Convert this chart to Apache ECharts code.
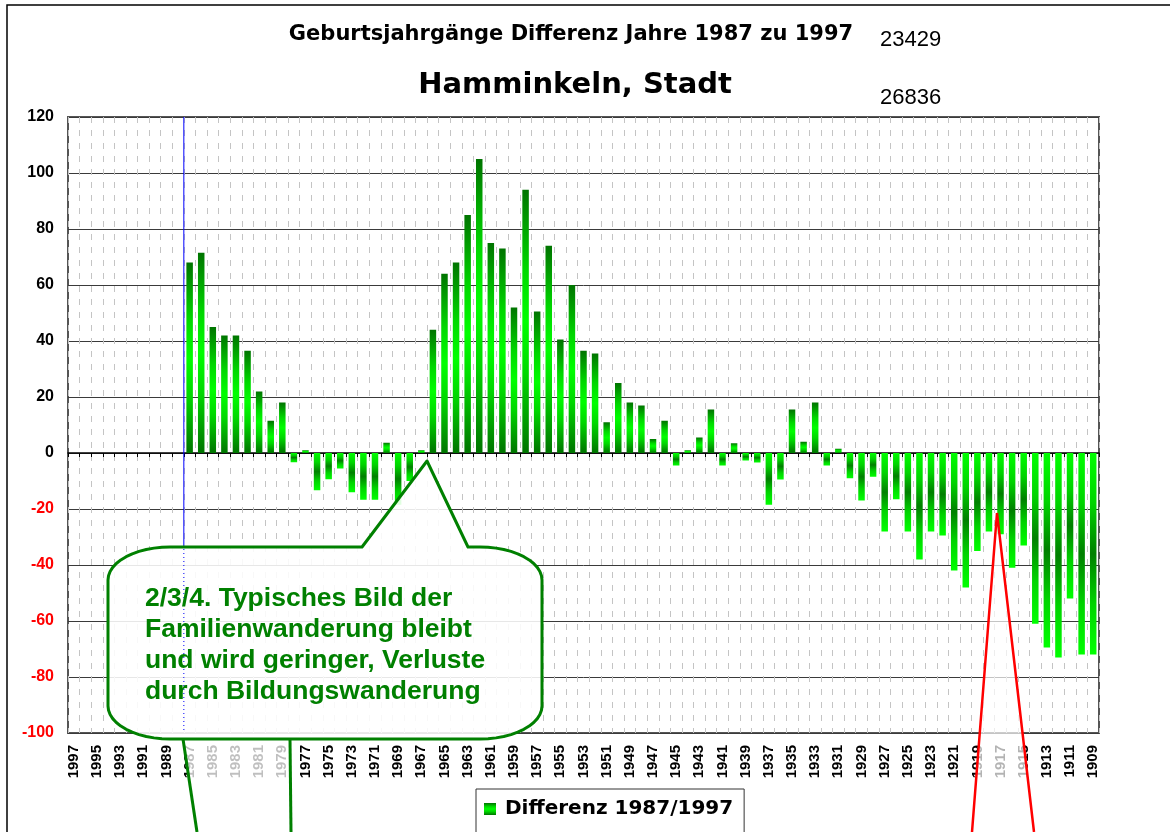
<!DOCTYPE html>
<html>
<head>
<meta charset="utf-8">
<script src="https://cdn.jsdelivr.net/npm/echarts@6/dist/echarts.min.js"></script>
<style>
  html, body { margin: 0; padding: 0; background: #fff; }
  #chart { width: 1170px; height: 832px; }
</style>
</head>
<body>
<div id="chart"></div>
<script>
// birth years, newest first (as in the original sheet)
const years = [
  '1997','1996','1995','1994','1993','1992','1991','1990','1989','1988',
  '1987','1986','1985','1984','1983','1982','1981','1980','1979','1978',
  '1977','1976','1975','1974','1973','1972','1971','1970','1969','1968',
  '1967','1966','1965','1964','1963','1962','1961','1960','1959','1958',
  '1957','1956','1955','1954','1953','1952','1951','1950','1949','1948',
  '1947','1946','1945','1944','1943','1942','1941','1940','1939','1938',
  '1937','1936','1935','1934','1933','1932','1931','1930','1929','1928',
  '1927','1926','1925','1924','1923','1922','1921','1920','1919','1918',
  '1917','1916','1915','1914','1913','1912','1911','1910','1909'
]
// Differenz 1987/1997 per birth year
const diff = [
  null, null, null, null, null, null, null, null, null, null,
  68, 71.5, 45, 42, 42, 36.5, 22, 11.5, 18, -3.3,
  1, -13.3, -9.4, -5.5, -14, -16.7, -16.7, 3.7, -18.5, -10,
  1, 44, 64, 68, 85, 105, 75, 73, 52, 94,
  50.5, 74, 40.5, 60, 36.5, 35.5, 11, 25, 18, 17,
  5, 11.5, -4.5, 1, 5.5, 15.5, -4.5, 3.5, -2.7, -3.4,
  -18.5, -9.5, 15.5, 4, 18, -4.5, 1.5, -9, -17, -8.5,
  -28, -16.5, -28, -38, -28, -29.5, -42, -48, -35, -28,
  -29, -41, -33, -61, -69.5, -73, -52, -72, -72
]
const seriesName = 'Differenz 1987/1997'
const title1 = 'Geburtsjahrgänge Differenz Jahre 1987 zu 1997'
const title2 = 'Hamminkeln, Stadt'
const num1 = '23429'
const num2 = '26836'
const calloutLines = [
  '2/3/4. Typisches Bild der',
  'Familienwanderung bleibt',
  'und wird geringer, Verluste',
  'durch Bildungswanderung'
]

const green = '#008000'
const posGrad = new echarts.graphic.LinearGradient(0, 0, 0, 1, [
  { offset: 0, color: '#007400' },
  { offset: 0.3, color: '#00d800' },
  { offset: 0.5, color: '#00ff00' },
  { offset: 0.7, color: '#00d800' },
  { offset: 1, color: '#007400' }
])
const negGrad = new echarts.graphic.LinearGradient(0, 0, 0, 1, [
  { offset: 0, color: '#00ff00' },
  { offset: 0.25, color: '#00d400' },
  { offset: 0.5, color: '#008000' },
  { offset: 0.75, color: '#00d400' },
  { offset: 1, color: '#00ff00' }
])

const barData = diff.map(v => v === null ? '-' : {
  value: v,
  itemStyle: { color: v >= 0 ? posGrad : negGrad }
})

const myChart = echarts.init(document.getElementById('chart'))

const option = {
  animation: false,
  backgroundColor: '#fff',
  grid: {
    show: true,
    left: 68,
    right: 71,
    top: 117,
    bottom: 99,
    borderColor: '#555',
    borderWidth: 2,
    backgroundColor: 'transparent'
  },
  legend: {
    data: [seriesName],
    left: 476,
    top: 789,
    padding: [10, 11, 30, 8],
    itemWidth: 12,
    itemHeight: 12,
    itemGap: 0,
    icon: 'rect',
    borderColor: '#333',
    borderWidth: 1,
    textStyle: {
      fontFamily: 'DejaVu Sans',
      fontWeight: 'bold',
      fontSize: 20,
      color: '#000',
      padding: [0, 0, 0, 4]
    }
  },
  xAxis: [
    {
      type: 'category',
      data: years,
      position: 'bottom',
      axisLine: { show: false, onZero: false },
      axisTick: { show: false },
      axisLabel: {
        interval: 1,
        rotate: 90,
        margin: 12,
        fontFamily: 'Liberation Sans',
        fontWeight: 'bold',
        fontSize: 15,
        color: '#000'
      },
      splitLine: {
        show: true,
        interval: 0,
        lineStyle: { color: '#c4c4c4', width: 1, type: [6, 7] }
      }
    },
    {
      type: 'category',
      data: years,
      position: 'bottom',
      axisLine: { show: true, onZero: true, lineStyle: { color: '#000', width: 1.5 } },
      axisTick: { show: true, interval: 0, length: 4, lineStyle: { color: '#000' } },
      axisLabel: { show: false },
      splitLine: { show: false }
    }
  ],
  yAxis: {
    type: 'value',
    min: -100,
    max: 120,
    interval: 20,
    axisLine: { show: false },
    axisTick: { show: false },
    axisLabel: {
      margin: 14,
      fontFamily: 'Liberation Sans',
      fontWeight: 'bold',
      fontSize: 16,
      color: v => v < 0 ? '#ff0000' : '#000'
    },
    splitLine: { lineStyle: { color: '#3a3a3a', width: 1 } }
  },
  series: [
    {
      name: seriesName,
      type: 'bar',
      xAxisIndex: 0,
      data: barData,
      barWidth: 6.5,
      itemStyle: { color: posGrad }
    }
  ]
}
myChart.setOption(option)

// annotations (callout shapes, lines, titles)
const x9 = myChart.convertToPixel({ xAxisIndex: 0 }, 9)
const x10 = myChart.convertToPixel({ xAxisIndex: 0 }, 10)
const blueX = (x9 + x10) / 2

function calloutPoints (l, t, r, b, rx, ry, ptr) {
  const pts = []
  const arc = (cx, cy, a0, a1) => {
    for (let i = 0; i <= 12; i++) {
      const a = a0 + (a1 - a0) * i / 12
      pts.push([cx + rx * Math.cos(a), cy + ry * Math.sin(a)])
    }
  }
  pts.push([ptr[0][0], t], ptr[1], [ptr[2][0], t])
  arc(r - rx, t + ry, -Math.PI / 2, 0)
  arc(r - rx, b - ry, 0, Math.PI / 2)
  arc(l + rx, b - ry, Math.PI / 2, Math.PI)
  arc(l + rx, t + ry, Math.PI, Math.PI * 1.5)
  return pts
}

const boxPts = calloutPoints(108, 547, 542, 739, 62, 33, [[362, 547], [427, 461], [468, 547]])

myChart.setOption({
  graphic: [
    { type: 'rect', z: 200, silent: true, shape: { x: 7, y: 5, width: 1200, height: 900 },
      style: { fill: 'none', stroke: '#000', lineWidth: 1.5 } },
    { type: 'text', z: 200, x: 571, y: 35, style: { text: title1, fontFamily: 'DejaVu Sans', fontWeight: 'bold', fontSize: 21,
      fill: '#000', align: 'center', verticalAlign: 'middle' } },
    { type: 'text', z: 200, x: 880, y: 29, style: { text: num1, fontFamily: 'Liberation Sans', fontSize: 22, fill: '#000' } },
    { type: 'text', z: 200, x: 575, y: 85, style: { text: title2, fontFamily: 'DejaVu Sans', fontWeight: 'bold', fontSize: 29,
      fill: '#000', align: 'center', verticalAlign: 'middle' } },
    { type: 'text', z: 200, x: 880, y: 87, style: { text: num2, fontFamily: 'Liberation Sans', fontSize: 22, fill: '#000' } },
    { type: 'line', z: 50, shape: { x1: blueX, y1: 117, x2: blueX, y2: 547 }, style: { stroke: '#0000ff', lineWidth: 1 } },
    // washed area under callout bottom
    { type: 'polygon', z: 90, shape: { points: [[183, 739], [197, 832], [291, 832], [290, 739]] },
      style: { fill: 'rgba(255,255,255,0.75)' } },
    { type: 'line', z: 110, shape: { x1: 183, y1: 739, x2: 197, y2: 832 }, style: { stroke: green, lineWidth: 3 } },
    { type: 'line', z: 110, shape: { x1: 290, y1: 739, x2: 291, y2: 832 }, style: { stroke: green, lineWidth: 3 } },
    // callout box
    { type: 'polygon', z: 100, shape: { points: boxPts },
      style: { fill: 'rgba(255,255,255,0.88)', stroke: green, lineWidth: 3, lineJoin: 'round' } },
    { type: 'line', z: 105, shape: { x1: blueX, y1: 549, x2: blueX, y2: 733 }, style: { stroke: '#0000ff', lineWidth: 1, lineDash: [1, 3] } },
    { type: 'text', z: 120, x: 145, y: 583, style: {
      text: calloutLines.join('\n'), fontFamily: 'Liberation Sans', fontWeight: 'bold', fontSize: 26.5,
      lineHeight: 31, fill: green } },
    // red pointer
    { type: 'polygon', z: 100, shape: { points: [[997, 513], [972, 832], [1034, 832]] },
      style: { fill: 'rgba(255,255,255,0.7)' } },
    { type: 'polyline', z: 110, shape: { points: [[972, 832], [997, 513], [1034, 832]] },
      style: { stroke: '#ff0000', lineWidth: 2.5, fill: 'none' } }
  ]
})
</script>
</body>
</html>
